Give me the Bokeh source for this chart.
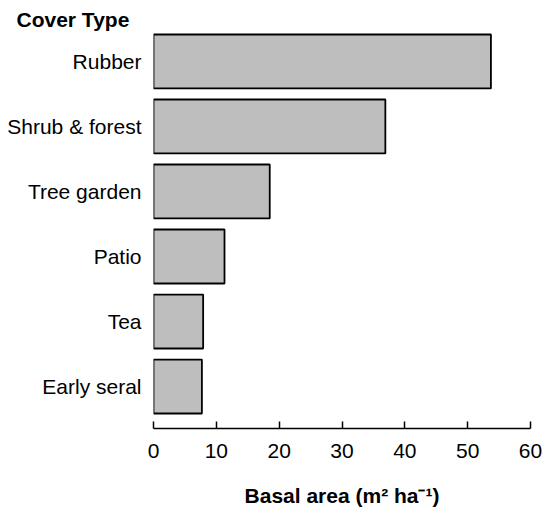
from bokeh.plotting import figure
from bokeh.models import Range1d, FixedTicker
from bokeh.embed import file_html
from bokeh.resources import INLINE

# Data (listed top to bottom as in the chart)
cover_types = ["Rubber", "Shrub & forest", "Tree garden", "Patio", "Tea", "Early seral"]
basal_area = [53.7, 36.9, 18.5, 11.3, 7.9, 7.7]
x_ticks = [0, 10, 20, 30, 40, 50, 60]

n = len(cover_types)
positions = [n - 1 - i for i in range(n)]  # Rubber at top

FONT = "Liberation Sans"
FS = "21px"

p = figure(frame_width=377, frame_height=396, output_backend="svg", toolbar_location=None,
           x_range=Range1d(0, 60), y_range=Range1d(-0.646, n - 1 + 0.446),
           min_border_left=153, min_border_right=13, min_border_top=32,
           min_border_bottom=0)

p.hbar(y=positions, right=basal_area, left=0, height=0.83,
       fill_color="#BEBEBE", line_color="black", line_width=1.8)

p.outline_line_color = None
p.xgrid.visible = False
p.ygrid.visible = False
p.background_fill_color = "white"
p.border_fill_color = "white"

# title "Cover Type" at upper left
p.title.text = "Cover Type"
p.title.align = "left"
p.title.offset = -137
p.title.standoff = 3
p.title.text_font = FONT
p.title.text_font_size = FS
p.title.text_font_style = "bold"
p.title.text_color = "black"

# x axis
xa = p.xaxis[0]
xa.ticker = FixedTicker(ticks=x_ticks)
xa.major_tick_in = 7
xa.major_tick_out = 0
xa.minor_tick_in = 0
xa.minor_tick_out = 0
xa.axis_line_color = "black"
xa.axis_line_width = 1.5
xa.major_tick_line_width = 1.5
xa.major_tick_line_color = "black"
xa.major_label_text_font = FONT
xa.major_label_text_font_size = FS
xa.major_label_text_color = "black"
xa.major_label_standoff = 15
xa.axis_label = "Basal area (m² ha⁻¹)"
xa.axis_label_text_font = FONT
xa.axis_label_text_font_size = FS
xa.axis_label_text_font_style = "bold"
xa.axis_label_text_color = "black"
xa.axis_label_standoff = 23

# y axis
ya = p.yaxis[0]
ya.ticker = FixedTicker(ticks=positions)
ya.major_label_overrides = {pos: name for pos, name in zip(positions, cover_types)}
ya.axis_line_color = None
ya.major_tick_line_color = None
ya.minor_tick_line_color = None
ya.major_tick_out = 0
ya.major_tick_in = 0
ya.minor_tick_out = 0
ya.minor_tick_in = 0
ya.major_label_text_font = FONT
ya.major_label_text_font_size = FS
ya.major_label_text_color = "black"
ya.major_label_standoff = 12

open("out.html", "w").write(file_html(p, INLINE))
